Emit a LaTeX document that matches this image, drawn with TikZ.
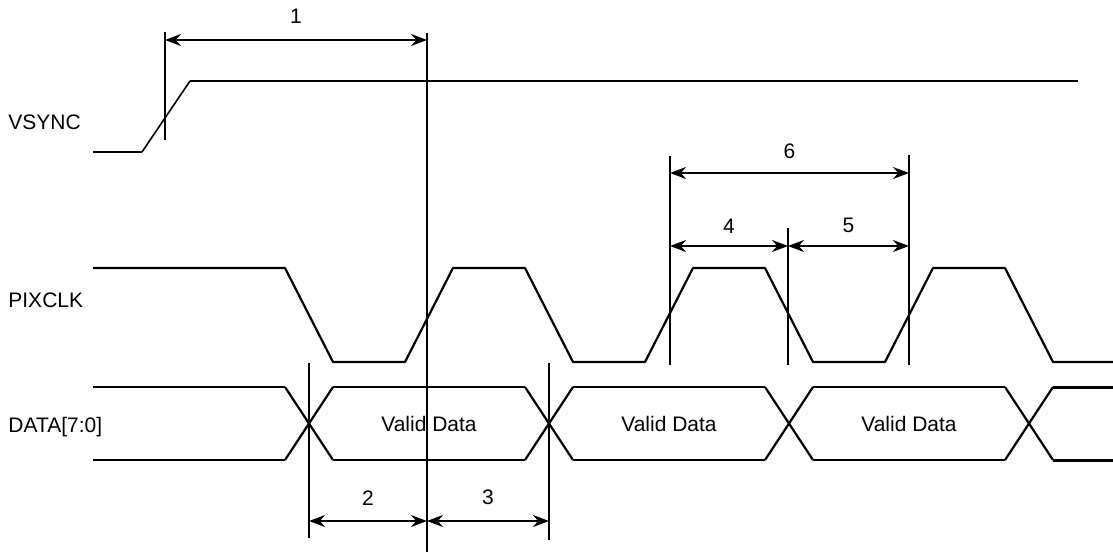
\documentclass[tikz,border=0pt]{standalone}
\usepackage{fontspec}
\setmainfont{Liberation Sans}
\usetikzlibrary{arrows.meta}
\tikzset{>=latex}
\tikzstyle{dimarr}=[{Stealth[length=8,width=6]}-{Stealth[length=8,width=6]}]

\begin{document}
\begin{tikzpicture}[x=0.5pt,y=-0.5pt,
	signal/.style={line width=1.1pt},
	marker/.style={line width=1pt},
	lbl/.style={font=\fontsize{10.5}{12}\selectfont,inner sep=0}]
		
		\useasboundingbox (0,0) rectangle (1113,552);
		
		\def\VsLow{152}
		\def\VsHigh{81}
		\def\ClkLow{362}
		\def\ClkHigh{268}
		\def\DataTop{387}
		\def\DataBot{460}
		\def\DataMid{423.5}
		\def\Edge{24}
		
		
		%% SIGNAL NAMES
		\node[lbl,anchor=west] (vsyncname) at (8,122) {VSYNC};
		\node[lbl,anchor=west] (pixclkname) at (8,300) {PIXCLK};
		\node[lbl,anchor=west] (dataname) at (8,427) {DATA[7:0]};
		
		
		%% VSYNC
		\draw[signal] (93,\VsLow) -- (142,\VsLow);
		\draw[line width=0.8pt] (142,\VsLow) -- (190,\VsHigh);
		\draw[signal] (190,\VsHigh) -- (1078,\VsHigh);
		
		
		%% PIXCLK
		\draw[signal,line join=round] (93,\ClkHigh) -- (285,\ClkHigh) -- (333,\ClkLow)
			foreach \t in {405,645,885}{ -- (\t,\ClkLow) -- (\t+48,\ClkHigh) -- (\t+120,\ClkHigh) -- (\t+168,\ClkLow)}
			-- (1113,\ClkLow);
		
		
		%% DATA
		\draw[signal] (93,\DataTop) -- (285,\DataTop);
		\draw[signal] (93,\DataBot) -- (285,\DataBot);
		\foreach \c in {309,549,789,1029}{
			\draw[signal] (\c-\Edge,\DataTop) -- (\c+\Edge,\DataBot);
			\draw[signal] (\c-\Edge,\DataBot) -- (\c+\Edge,\DataTop);
		}
		\foreach \c [count=\i] in {309,549,789}{
			\draw[signal] (\c+\Edge,\DataTop) -- (\c+240-\Edge,\DataTop);
			\draw[signal] (\c+\Edge,\DataBot) -- (\c+240-\Edge,\DataBot);
			\node[lbl] (valid\i) at (\c+120,\DataMid) {Valid Data};
		}
		\draw[line width=1.5pt] (1053,\DataTop) -- (1113,\DataTop);
		\draw[line width=1.5pt] (1053,\DataBot) -- (1113,\DataBot);
		
		
		%% TIMING MARKERS
		\coordinate (VsTop) at (165,32);
		\coordinate (VsBot) at (165,140);
		\coordinate (RefTop) at (427,33);
		\coordinate (RefBot) at (427,552);
		\coordinate (DOneTop) at (309,363);
		\coordinate (DOneBot) at (309,538);
		\coordinate (DTwoTop) at (549,363);
		\coordinate (DTwoBot) at (549,540);
		\coordinate (ClkOneTop) at (670,156);
		\coordinate (ClkOneBot) at (670,365);
		\coordinate (ClkTwoTop) at (788,228);
		\coordinate (ClkTwoBot) at (788,365);
		\coordinate (ClkThreeTop) at (909,155);
		\coordinate (ClkThreeBot) at (909,365);
		
		\draw[marker] (VsTop) -- (VsBot);
		\draw[marker] (RefTop) -- (RefBot);
		\draw[marker] (DOneTop) -- (DOneBot);
		\draw[marker] (DTwoTop) -- (DTwoBot);
		\draw[marker] (ClkOneTop) -- (ClkOneBot);
		\draw[marker] (ClkTwoTop) -- (ClkTwoBot);
		\draw[marker] (ClkThreeTop) -- (ClkThreeBot);
		
		
		%% DIMENSIONS
		\coordinate (A1) at (165,40);
		\coordinate (B1) at (427,40);
		\coordinate (A2) at (309,521);
		\coordinate (B2) at (427,521);
		\coordinate (B3) at (549,521);
		\coordinate (A6) at (670,173);
		\coordinate (B6) at (909,173);
		\coordinate (A4) at (670,246);
		\coordinate (B4) at (788,246);
		\coordinate (B5) at (909,246);
		
		\draw[dimarr,marker] (A1) -- node[lbl,midway,above=8pt] (t1) {1} (B1);
		\draw[dimarr,marker] (A2) -- node[lbl,midway,above=7.5pt] (t2) {2} (B2);
		\draw[dimarr,marker] (B2) -- node[lbl,midway,above=7.5pt] (t3) {3} (B3);
		\draw[dimarr,marker] (A4) -- node[lbl,midway,above=6pt] (t4) {4} (B4);
		\draw[dimarr,marker] (B4) -- node[lbl,midway,above=6pt] (t5) {5} (B5);
		\draw[dimarr,marker] (A6) -- node[lbl,midway,above=6.5pt] (t6) {6} (B6);
		
	\end{tikzpicture}
\end{document}
